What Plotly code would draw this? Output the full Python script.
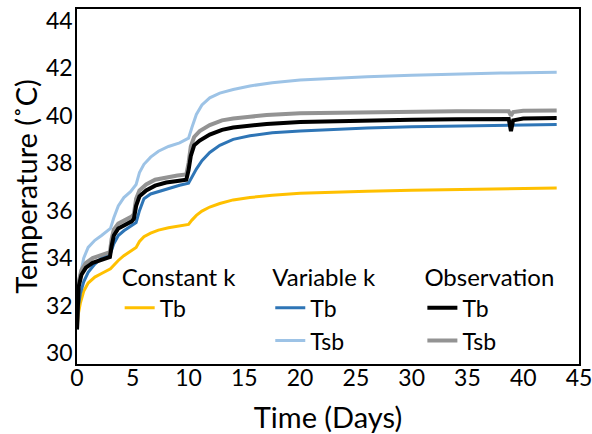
import plotly.graph_objects as go

# ---- data ----
model_days = [0, 0.1, 0.3, 0.6, 1.0, 1.6, 2.2, 2.8, 3.0, 3.3, 3.7, 4.2, 4.8, 5.3, 5.6, 6.0,
              6.6, 7.3, 8.2, 9.2, 10.0, 10.3, 10.7, 11.2, 11.9, 12.8, 14, 15.5, 17.5, 20,
              23, 26, 30, 34, 38, 43]
const_k_tb = [31.0, 31.6, 32.1, 32.6, 32.95, 33.2, 33.35, 33.5, 33.55, 33.7, 33.9, 34.1, 34.3,
              34.45, 34.7, 34.9, 35.05, 35.18, 35.28, 35.36, 35.42, 35.6, 35.8, 35.98, 36.15,
              36.3, 36.45, 36.55, 36.65, 36.73, 36.78, 36.82, 36.86, 36.89, 36.92, 36.95]
var_k_tb = [31.0, 31.9, 32.5, 33.0, 33.4, 33.75, 34.0, 34.15, 34.2, 34.6, 34.95, 35.15, 35.35,
            35.5, 36.0, 36.5, 36.7, 36.8, 36.95, 37.07, 37.15, 37.4, 37.75, 38.1, 38.45, 38.75,
            39.0, 39.15, 39.28, 39.35, 39.42, 39.48, 39.53, 39.57, 39.6, 39.63]
var_k_tsb = [31.0, 32.5, 33.3, 34.0, 34.45, 34.75, 34.95, 35.15, 35.25, 35.7, 36.2, 36.55, 36.8,
             37.1, 37.6, 37.95, 38.25, 38.5, 38.7, 38.85, 39.05, 39.5, 40.05, 40.45, 40.75,
             40.95, 41.1, 41.25, 41.38, 41.5, 41.58, 41.64, 41.7, 41.75, 41.79, 41.83]

obs_days = [0, 0.05, 0.15, 0.4, 0.8, 1.4, 2.0, 2.6, 2.95, 3.1, 3.3, 3.7, 4.3, 4.9, 5.1, 5.3,
            5.6, 6.2, 7.0, 8.0, 9.0, 9.8, 10.0, 10.2, 10.5, 11.0, 11.9, 13, 14, 15.5, 17, 20,
            23, 26, 30, 34, 38.7, 38.9, 39.1, 40, 43]
obs_tb = [31.0, 32.1, 32.8, 33.3, 33.6, 33.8, 33.9, 34.0, 34.05, 34.5, 34.95, 35.25, 35.4,
          35.55, 35.65, 36.2, 36.6, 36.85, 37.05, 37.18, 37.25, 37.3, 37.7, 38.3, 38.75, 38.95,
          39.2, 39.4, 39.5, 39.58, 39.65, 39.73, 39.77, 39.8, 39.83, 39.85, 39.86, 39.35, 39.8,
          39.88, 39.9]
obs_tsb = [31.0, 32.3, 33.0, 33.5, 33.8, 34.0, 34.1, 34.2, 34.25, 34.8, 35.2, 35.45, 35.6,
           35.75, 35.85, 36.5, 36.85, 37.1, 37.3, 37.4, 37.48, 37.52, 38.0, 38.7, 39.1, 39.35,
           39.6, 39.8, 39.88, 39.95, 40.03, 40.1, 40.12, 40.15, 40.17, 40.18, 40.18, 40.0, 40.15,
           40.2, 40.22]

x_ticks = [0, 5, 10, 15, 20, 25, 30, 35, 40, 45]
y_ticks = [30, 32, 34, 36, 38, 40, 42, 44]

FONT = "Lato"

fig = go.Figure()
fig.add_trace(go.Scatter(x=model_days, y=const_k_tb, mode="lines", name="Tb", showlegend=True,
                         line=dict(color="#FFC000", width=3), legend="legend"))
fig.add_trace(go.Scatter(x=model_days, y=var_k_tsb, mode="lines", name="Tsb", legendrank=2,
                         showlegend=True,
                         line=dict(color="#9DC3E6", width=3), legend="legend2"))
fig.add_trace(go.Scatter(x=model_days, y=var_k_tb, mode="lines", name="Tb", legendrank=1,
                         showlegend=True,
                         line=dict(color="#2E75B6", width=3), legend="legend2"))
fig.add_trace(go.Scatter(x=obs_days, y=obs_tsb, mode="lines", name="Tsb", legendrank=2,
                         showlegend=True,
                         line=dict(color="#939393", width=4), legend="legend3"))
fig.add_trace(go.Scatter(x=obs_days, y=obs_tb, mode="lines", name="Tb", legendrank=1,
                         showlegend=True,
                         line=dict(color="#000000", width=4), legend="legend3"))

leg_common = dict(bgcolor="rgba(0,0,0,0)", font=dict(family=FONT, size=23, color="#000"),
                  xanchor="left", yanchor="top", tracegroupgap=0, itemwidth=30,
                  visible=True)
title_font = dict(family=FONT, size=24, color="#000")
LEG_Y = 0.307

fig.update_layout(
    width=592, height=434,
    showlegend=True,
    margin=dict(l=77, r=13, t=9, b=70),
    paper_bgcolor="white", plot_bgcolor="white",
    font=dict(family=FONT, color="#000"),
    legend=dict(x=0.085, y=LEG_Y, title=dict(text="Constant k", font=title_font), **leg_common),
    legend2=dict(x=0.385, y=LEG_Y, title=dict(text="Variable k", font=title_font), **leg_common),
    legend3=dict(x=0.688, y=LEG_Y, title=dict(text="Observation", font=title_font), **leg_common),
    xaxis=dict(range=[0, 45], tickvals=x_ticks, ticktext=[str(v) for v in x_ticks],
               showgrid=False, zeroline=False, showline=True, linecolor="#000", linewidth=1.5,
               mirror=True, ticks="", tickfont=dict(family=FONT, size=23), automargin=False,
               ticklabelstandoff=-7, ticklabeloverflow="allow",
               title=dict(text="Time (Days)", font=dict(family=FONT, size=29), standoff=18)),
    yaxis=dict(range=[29.54, 44.49], tickvals=y_ticks, ticktext=[str(v) for v in y_ticks],
               showgrid=False, zeroline=False, showline=True, linecolor="#000", linewidth=1.5,
               mirror=True, ticks="", tickfont=dict(family=FONT, size=23), automargin=False,
               ticklabelstandoff=-2, ticklabeloverflow="allow",
               title=dict(text="Temperature (˚C)", font=dict(family=FONT, size=29), standoff=0)),
)

fig.write_html("out.html", config={"displayModeBar": False},
               post_script="document.body.style.margin='0px';document.body.style.overflow='hidden';")
